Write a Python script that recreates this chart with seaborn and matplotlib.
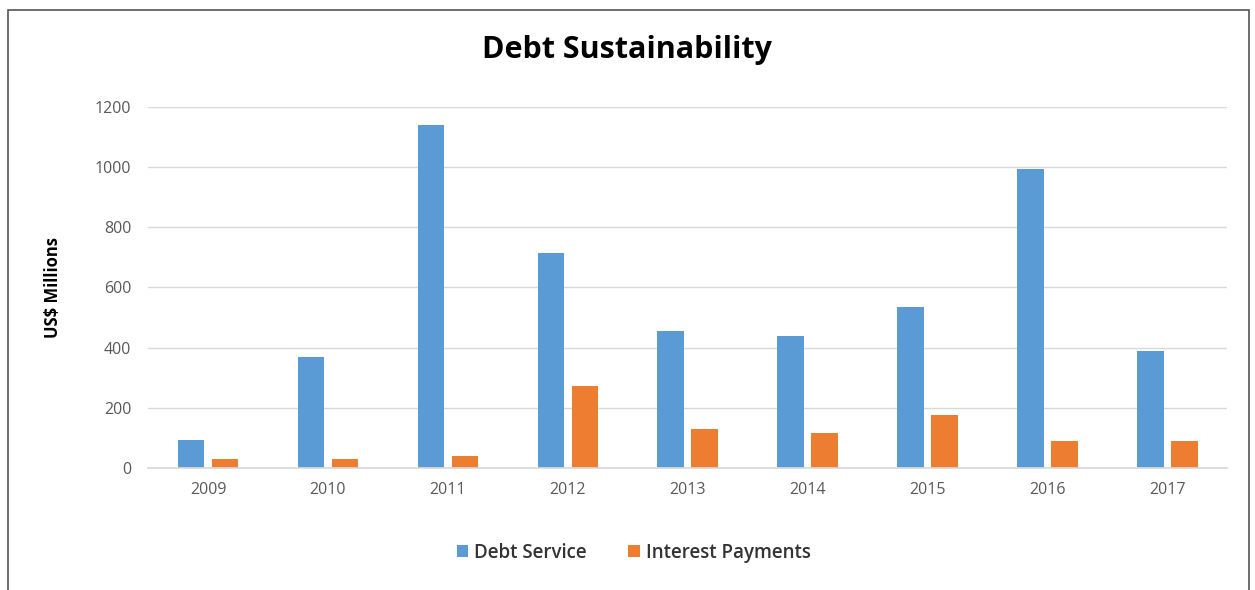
import matplotlib
matplotlib.use("Agg")
import matplotlib.pyplot as plt
import seaborn as sns
import pandas as pd
from matplotlib.patches import Rectangle

years = ["2009", "2010", "2011", "2012", "2013", "2014", "2015", "2016", "2017"]
debt_service = [94, 367, 1139, 713, 455, 439, 535, 992, 387]
interest_payments = [29, 29, 40, 273, 128, 116, 177, 89, 89]
series_names = ["Debt Service", "Interest Payments"]
colors = ["#5B9BD5", "#ED7D31"]

df = pd.DataFrame({
    "Year": years * 2,
    "Value": debt_service + interest_payments,
    "Series": [series_names[0]] * len(years) + [series_names[1]] * len(years),
})

sns.set_theme(style="white")
plt.rcParams["font.family"] = ["Open Sans", "DejaVu Sans"]

fig = plt.figure(figsize=(12.55, 5.9), dpi=100)
ax = fig.add_axes([0.118, 0.207, 0.860, 0.612])

sns.barplot(data=df, x="Year", y="Value", hue="Series", palette=colors,
            width=0.567, gap=0.22, ax=ax, legend=True, saturation=1, linewidth=0)

ax.set_ylim(0, 1200)
ax.set_yticks(range(0, 1201, 200))
ax.set_xlim(-0.5, len(years) - 0.5)
ax.yaxis.grid(True, color="#d9d9d9", linewidth=1)
ax.set_axisbelow(True)
for s in ["top", "right", "left"]:
    ax.spines[s].set_visible(False)
ax.spines["bottom"].set_color("#d9d9d9")
ax.tick_params(axis="both", length=0, labelsize=11.5, colors="#595959", pad=12)
ax.tick_params(axis="x", pad=10)
ax.set_xlabel("")
ax.set_ylabel("US$ Millions", fontsize=12, fontweight="bold", color="black", labelpad=24)

fig.suptitle("Debt Sustainability", x=0.5, y=0.94, fontsize=22, fontweight="bold", color="black")

handles, labels = ax.get_legend_handles_labels()
ax.legend(handles, labels, loc="center", ncol=2, frameon=False,
          prop={"size": 13.5, "weight": "semibold"}, handlelength=0.6, handleheight=0.6,
          handletextpad=0.35, columnspacing=2.2, labelcolor="#333333")
leg = ax.get_legend()
leg.set_bbox_to_anchor((0.505, 1 - 553 / 590), transform=fig.transFigure)

fig.patches.append(Rectangle((8 / 1255, -0.01), 1 - 14 / 1255, 1 - 10 / 590 + 0.01,
                             transform=fig.transFigure, fill=False,
                             edgecolor="#555555", linewidth=1.2))

fig.savefig("out.png", dpi=100)
